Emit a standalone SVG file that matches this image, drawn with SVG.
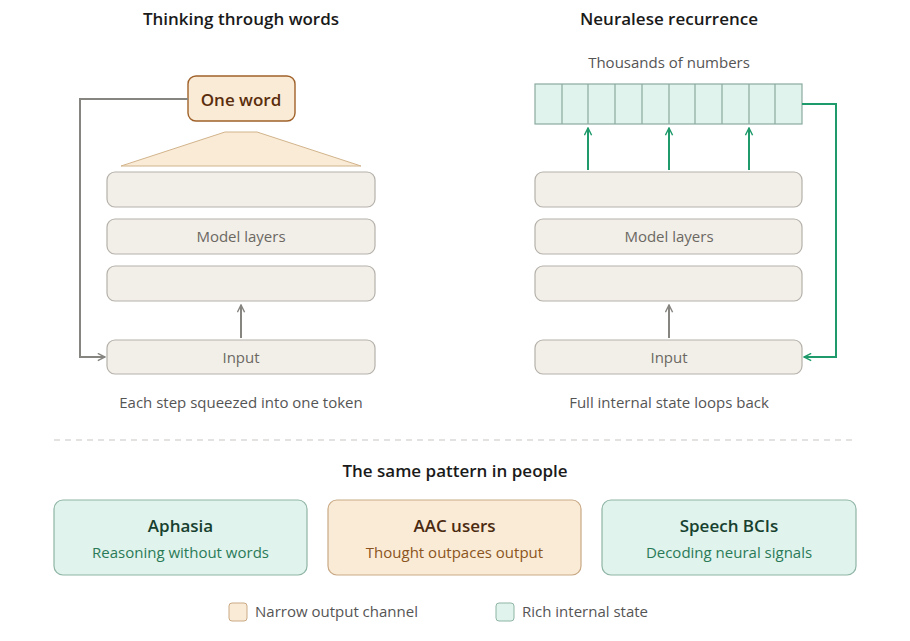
<svg xmlns="http://www.w3.org/2000/svg" width="910" height="641" viewBox="0 0 910 641">
<style>
text{font-family:"Open Sans","Noto Sans",sans-serif;text-anchor:middle}
.h{font-size:17px;fill:#1a1a1a;font-weight:600}
.cap{font-size:15px;fill:#555}
.lay{fill:#f2efe9;stroke:#b5b1aa;stroke-width:1.2}
.lt{font-size:15px;fill:#6b6862}
.g{fill:none;stroke:#878580;stroke-width:2}
.gr{fill:none;stroke:#1f9a6b;stroke-width:2}
.cell{fill:#e0f3ec;stroke:#8aaa9e;stroke-width:1.2}
.ct{font-size:17px;font-weight:600}
</style>
<defs>
<marker id="ag" viewBox="0 0 10 10" refX="9" refY="5" markerWidth="9" markerHeight="9" orient="auto" markerUnits="userSpaceOnUse"><path d="M1,1L9,5L1,9" fill="none" stroke="#878580" stroke-width="1.6"/></marker>
<marker id="agr" viewBox="0 0 10 10" refX="9" refY="5" markerWidth="9" markerHeight="9" orient="auto" markerUnits="userSpaceOnUse"><path d="M1,1L9,5L1,9" fill="none" stroke="#1f9a6b" stroke-width="1.6"/></marker>
</defs>
<rect width="910" height="641" fill="#fff"/>
<text class="h" x="241" y="25">Thinking through words</text>
<text class="h" x="669" y="25">Neuralese recurrence</text>
<text class="cap" x="669" y="68">Thousands of numbers</text>
<g id="oneword"><rect x="188" y="76" width="107" height="45" rx="8" fill="#faebd7" stroke="#a0622a" stroke-width="1.4"/><text x="241" y="106" font-size="17" font-weight="600" fill="#5a2e0c">One word</text></g>
<polygon points="225,132 257,132 361,166 121,166" fill="#faebd7" stroke="#d2b48c" stroke-width="1"/>
<g id="left-layers">
<rect class="lay" x="107" y="172" width="268" height="35" rx="8"/>
<rect class="lay" x="107" y="219" width="268" height="35" rx="8"/><text class="lt" x="241" y="242">Model layers</text>
<rect class="lay" x="107" y="266" width="268" height="35" rx="8"/>
</g>
<g id="left-input"><rect class="lay" x="107" y="340" width="268" height="34" rx="8"/><text class="lt" x="241" y="363">Input</text></g>
<text class="cap" x="241" y="408">Each step squeezed into one token</text>
<g id="state">
<rect class="cell" x="535" y="84" width="267" height="40"/>
<path d="M562,84V124M588,84V124M615,84V124M642,84V124M669,84V124M695,84V124M722,84V124M749,84V124M775,84V124" stroke="#8aaa9e" stroke-width="1.2"/>
</g>
<g id="right-layers">
<rect class="lay" x="535" y="172" width="267" height="35" rx="8"/>
<rect class="lay" x="535" y="219" width="267" height="35" rx="8"/><text class="lt" x="669" y="242">Model layers</text>
<rect class="lay" x="535" y="266" width="267" height="35" rx="8"/>
</g>
<g id="right-input"><rect class="lay" x="535" y="340" width="267" height="34" rx="8"/><text class="lt" x="669" y="363">Input</text></g>
<text class="cap" x="669" y="408">Full internal state loops back</text>
<g id="connectors">
<path class="g" d="M188,99H80V357H105" marker-end="url(#ag)"/>
<path class="g" d="M241,338V305" marker-end="url(#ag)"/>
<path class="g" d="M669,338V305" marker-end="url(#ag)"/>
<path class="gr" d="M588,170V128" marker-end="url(#agr)"/>
<path class="gr" d="M669,170V128" marker-end="url(#agr)"/>
<path class="gr" d="M749,170V128" marker-end="url(#agr)"/>
<path class="gr" d="M802,104H836V357H804" marker-end="url(#agr)"/>
</g>
<line x1="54" y1="440" x2="856" y2="440" stroke="#c8c6c2" stroke-width="1.2" stroke-dasharray="6,5"/>
<text class="h" x="455" y="477">The same pattern in people</text>
<g id="aphasia"><rect x="54" y="500" width="253" height="75" rx="9" fill="#e0f3ec" stroke="#8fb5a5" stroke-width="1.2"/><text class="ct" x="180.5" y="532" fill="#17402f">Aphasia</text><text x="180.5" y="558" font-size="15" fill="#2a7a58">Reasoning without words</text></g>
<g id="aac"><rect x="328" y="500" width="253" height="75" rx="9" fill="#faebd7" stroke="#c9a985" stroke-width="1.2"/><text class="ct" x="454.5" y="532" fill="#4a2a10">AAC users</text><text x="454.5" y="558" font-size="15" fill="#8a5520">Thought outpaces output</text></g>
<g id="bci"><rect x="602" y="500" width="254" height="75" rx="9" fill="#e0f3ec" stroke="#8fb5a5" stroke-width="1.2"/><text class="ct" x="729" y="532" fill="#17402f">Speech BCIs</text><text x="729" y="558" font-size="15" fill="#2a7a58">Decoding neural signals</text></g>
<g id="legend">
<rect x="229" y="603" width="18" height="18" rx="3" fill="#faebd7" stroke="#c9a985"/><text x="255" y="617" font-size="15" fill="#555" style="text-anchor:start">Narrow output channel</text>
<rect x="496" y="603" width="18" height="18" rx="3" fill="#e0f3ec" stroke="#8fb5a5"/><text x="522" y="617" font-size="15" fill="#555" style="text-anchor:start">Rich internal state</text>
</g>
</svg>
